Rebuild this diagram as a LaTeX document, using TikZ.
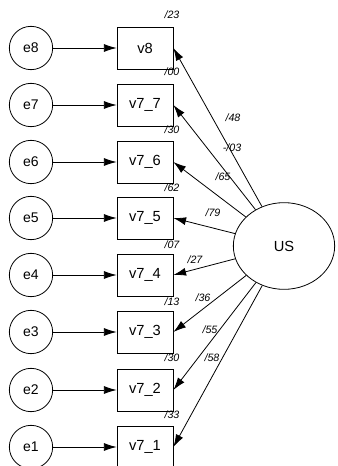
\documentclass[tikz,border=0pt]{standalone}
\usepackage{fontspec}
\setmainfont{Liberation Sans}
\usetikzlibrary{shapes,arrows.meta,positioning}
\tikzstyle{l2}=[line width=0.6]
\tikzstyle{err}=[circle, draw=black, minimum size=32.5pt, l2, inner sep=0pt, font=\fontsize{10.5}{12}\selectfont]
\tikzstyle{obs}=[rectangle, draw=black, minimum width=42pt, minimum height=31.5pt, l2, inner sep=0pt, font=\fontsize{11}{13}\selectfont]
\tikzstyle{lat}=[ellipse, draw=black, minimum width=76pt, minimum height=65pt, l2, font=\fontsize{11}{13}\selectfont]
\tikzstyle{est}=[font=\fontsize{8}{9}\selectfont\itshape, inner sep=0pt]
\tikzstyle{reg}=[l2, -{Latex[length=9.5pt, width=6pt]}]

\begin{document}
\begin{tikzpicture}[x=0.75pt, y=-0.75pt]
    \useasboundingbox (0,0) rectangle (337,466);
    % residuals
    \node[err] at (31,48) (e8) {e8};
    \node[err] at (31,105) (e7) {e7};
    \node[err] at (31,162) (e6) {e6};
    \node[err] at (31,218) (e5) {e5};
    \node[err] at (31,275) (e4) {e4};
    \node[err] at (31,332) (e3) {e3};
    \node[err] at (31,390) (e2) {e2};
    \node[err] at (31,447) (e1) {e1};
    % observed items
    \node[obs] at (145,48) (v8) {v8};
    \node[obs] at (145,105) (v77) {v7\_7};
    \node[obs] at (145,162) (v76) {v7\_6};
    \node[obs] at (145,218) (v75) {v7\_5};
    \node[obs] at (145,275) (v74) {v7\_4};
    \node[obs] at (145,332) (v73) {v7\_3};
    \node[obs] at (145,390) (v72) {v7\_2};
    \node[obs] at (145,447) (v71) {v7\_1};
    % latent factor
    \node[lat] at (284,246) (US) {US};

    \draw[reg] (e8) -- (v8);
    \draw[reg] (e7) -- (v77);
    \draw[reg] (e6) -- (v76);
    \draw[reg] (e5) -- (v75);
    \draw[reg] (e4) -- (v74);
    \draw[reg] (e3) -- (v73);
    \draw[reg] (e2) -- (v72);
    \draw[reg] (e1) -- (v71);

    \draw[reg] (US) -- (v8.east);
    \draw[reg] (US) -- (v77.east);
    \draw[reg] (US) -- (v76.east);
    \draw[reg] (US) -- (v75.east);
    \draw[reg] (US) -- (v74.east);
    \draw[reg] (US) -- (v73.east);
    \draw[reg] (US) -- (v72.east);
    \draw[reg] (US) -- (v71.east);

    % squared multiple correlations
    \node[est] at (172,15) (r8) {/23};
    \node[est] at (172,72) (r77) {/00};
    \node[est] at (172,130) (r76) {/30};
    \node[est] at (172,188) (r75) {/62};
    \node[est] at (172,245) (r74) {/07};
    \node[est] at (172,302) (r73) {/13};
    \node[est] at (172,358) (r72) {/30};
    \node[est] at (172,415) (r71) {/33};
    % loadings
    \node[est] at (233,118) (w8) {/48};
    \node[est] at (232,148) (w77) {-/03};
    \node[est] at (223,177) (w76) {/65};
    \node[est] at (213,213) (w75) {/79};
    \node[est] at (195,260) (w74) {/27};
    \node[est] at (203,298) (w73) {/36};
    \node[est] at (210,330) (w72) {/55};
    \node[est] at (212,358) (w71) {/58};
\end{tikzpicture}
\end{document}
